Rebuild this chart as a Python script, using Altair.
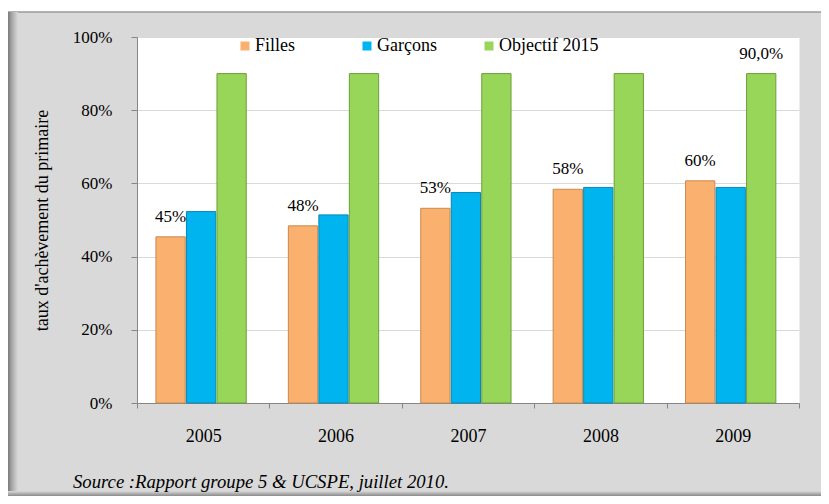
import altair as alt
import pandas as pd

years = ["2005", "2006", "2007", "2008", "2009"]
series = ["Filles", "Garçons", "Objectif 2015"]
filles = [0.454, 0.484, 0.532, 0.584, 0.607]
garcons = [0.523, 0.514, 0.575, 0.589, 0.589]
objectif = [0.90, 0.90, 0.90, 0.90, 0.90]
filles_labels = ["45%", "48%", "53%", "58%", "60%"]
objectif_label = "90,0%"
source_text = "Source :Rapport groupe 5 & UCSPE, juillet 2010."
y_title = "taux d'achèvement du primaire"

colors = ["#FAB16F", "#00B5EF", "#98D65A"]
strokes = ["#C98A4E", "#0A86B3", "#6E9E3A"]
FONT = "Liberation Serif, Times New Roman, serif"

rows = []
for i, yr in enumerate(years):
    rows.append({"year": yr, "series": series[0], "value": filles[i]})
    rows.append({"year": yr, "series": series[1], "value": garcons[i]})
    rows.append({"year": yr, "series": series[2], "value": objectif[i]})
df = pd.DataFrame(rows)

lab_rows = [{"year": yr, "series": series[0], "value": filles[i], "label": filles_labels[i]}
            for i, yr in enumerate(years)]
lab_rows.append({"year": years[-1], "series": series[2], "value": objectif[-1], "label": objectif_label})
labels_df = pd.DataFrame(lab_rows)

x_scale = alt.Scale(paddingInner=0, paddingOuter=0)
xoff_scale = alt.Scale(paddingInner=0.04, paddingOuter=0.69, align=0.45)

x_enc = alt.X("year:N", sort=years, scale=x_scale,
              axis=alt.Axis(title=None, labelAngle=0, tickBand="extent", tickSize=5,
                            labelPadding=19, domainColor="#868686", tickColor="#868686",
                            labelFont=FONT, labelFontSize=18, labelColor="#000000", grid=False))
xoff = alt.XOffset("series:N", sort=series, scale=xoff_scale)
y_enc = alt.Y("value:Q", stack=False,
              scale=alt.Scale(domain=[0, 1]),
              axis=alt.Axis(title=y_title, format=".0%", values=[0, 0.2, 0.4, 0.6, 0.8, 1.0],
                            tickSize=6, labelPadding=19, domainColor="#868686", tickColor="#868686",
                            gridColor="#D9D9D9", labelFont=FONT, labelFontSize=17, labelColor="#000000",
                            titleFont=FONT, titleFontSize=18, titleFontWeight="normal",
                            titleColor="#000000", titleAngle=-90, titleX=-95, titleY=183,
                            titleAlign="center", titleBaseline="middle"))

bars = alt.Chart(df).mark_bar(strokeWidth=1).encode(
    x=x_enc,
    xOffset=xoff,
    y=y_enc,
    color=alt.Color("series:N", sort=series,
                    scale=alt.Scale(domain=series, range=colors),
                    legend=alt.Legend(title=None, orient="none", legendX=99, legendY=0,
                                      direction="horizontal", columns=3, symbolType="square",
                                      symbolSize=81, symbolStrokeWidth=0, labelFont=FONT,
                                      labelFontSize=18, labelColor="#000000", labelOffset=1,
                                      columnPadding=3, gridAlign="all", padding=0)),
    stroke=alt.Stroke("series:N", sort=series,
                      scale=alt.Scale(domain=series, range=strokes), legend=None),
)

texts = alt.Chart(labels_df).mark_text(font=FONT, fontSize=17, color="#000000",
                                       baseline="middle", dy=-20).encode(
    x=alt.X("year:N", sort=years),
    xOffset=alt.XOffset("series:N", sort=series),
    y=alt.Y("value:Q"),
    text="label:N",
)

dummy = pd.DataFrame({"a": [0]})
white_top = alt.Chart(dummy).mark_rect(color="#FFFFFF").encode(
    x=alt.value(-129), x2=alt.value(684), y=alt.value(-29), y2=alt.value(-25))
top_line = alt.Chart(dummy).mark_rule(color="#9A9A9A", strokeWidth=1.5).encode(
    x=alt.value(-129), x2=alt.value(684), y=alt.value(-25))
left_shade = alt.Chart(dummy).mark_rect(
    fill=alt.LinearGradient(gradient="linear", x1=0, x2=1, y1=0, y2=0,
                            stops=[alt.GradientStop(offset=0, color="#7A7A7A"),
                                   alt.GradientStop(offset=0.4, color="#A8A8A8"),
                                   alt.GradientStop(offset=1, color="#D9D9D9")])).encode(
    x=alt.value(-129), x2=alt.value(-119), y=alt.value(-25), y2=alt.value(459))
bottom_shade = alt.Chart(dummy).mark_rect(
    fill=alt.LinearGradient(gradient="linear", x1=0, x2=0, y1=0, y2=1,
                            stops=[alt.GradientStop(offset=0, color="#D9D9D9"),
                                   alt.GradientStop(offset=1, color="#8A8A8A")])).encode(
    x=alt.value(-129), x2=alt.value(684), y=alt.value(454), y2=alt.value(459))

source = alt.Chart(pd.DataFrame({"t": [source_text]})).mark_text(
    font=FONT, fontSize=18.7, fontStyle="italic", color="#000000", align="left", baseline="middle"
).encode(x=alt.value(-64), y=alt.value(445), text="t:N")

chart = alt.layer(white_top, top_line, left_shade, bottom_shade, bars, texts, source).properties(
    width=662, height=366,
    autosize=alt.AutoSizeParams(type="none"),
    padding={"left": 129, "top": 29, "right": 22, "bottom": 93},
    background="#D9D9D9",
).configure_view(fill="#FFFFFF", stroke="transparent")

chart.save("out.html", embed_options={"renderer": "svg", "actions": False})
